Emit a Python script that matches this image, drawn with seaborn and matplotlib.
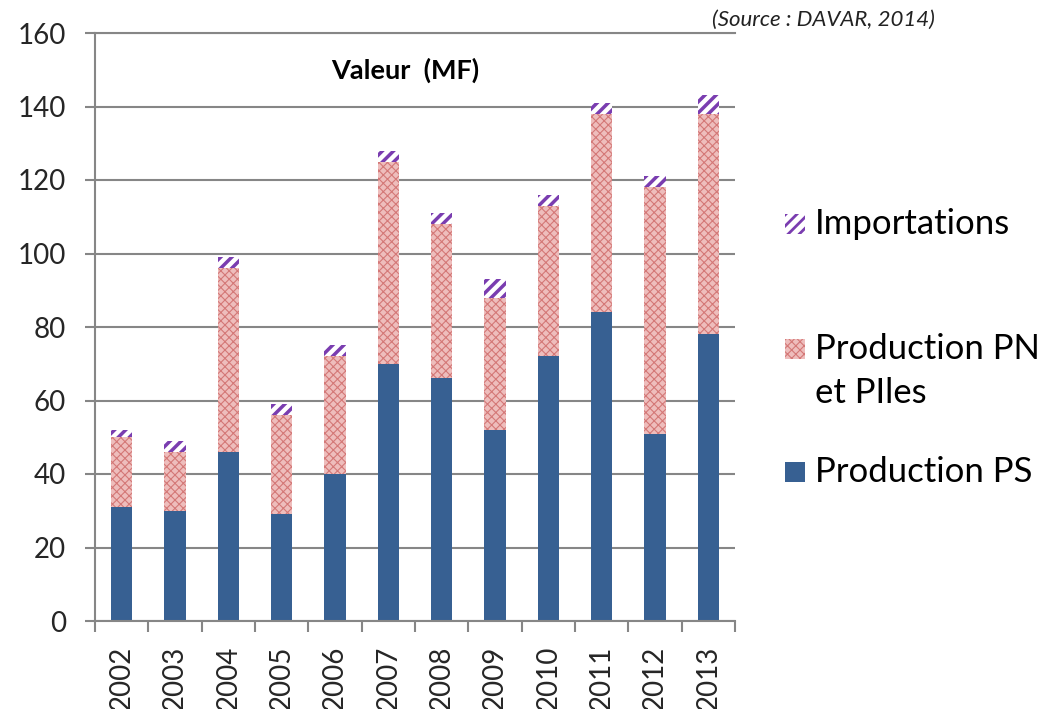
import matplotlib
matplotlib.use("Agg")

import matplotlib.pyplot as plt
from matplotlib.patches import Rectangle
import seaborn as sns
import numpy as np

# --- Data ---
years = ["2002", "2003", "2004", "2005", "2006", "2007",
         "2008", "2009", "2010", "2011", "2012", "2013"]
production_ps = [31, 30, 46, 29, 40, 70, 66, 52, 72, 84, 51, 78]
production_pn = [19, 16, 50, 27, 32, 55, 42, 36, 41, 54, 67, 60]
importations = [2, 3, 3, 3, 3, 3, 3, 5, 3, 3, 3, 5]

series_labels = ["Importations", "Production PN\net PIles", "Production PS"]

# --- Style ---
C_PS = "#376092"
C_PN_FACE = "#EEBDBC"
C_PN_HATCH = "#D47877"
C_IMP = "#7A3DB0"
GRID = "#868686"

sns.set_theme(style="white")
plt.rcParams["font.family"] = ["Lato", "DejaVu Sans"]

fig = plt.figure(figsize=(10.46, 7.09), dpi=100)
ax = fig.add_axes([95 / 1046, 1 - 621 / 709, 640 / 1046, 588 / 709])

bottom_pn = list(production_ps)
bottom_imp = [a + b for a, b in zip(production_ps, production_pn)]

sns.barplot(x=years, y=production_ps, color=C_PS, width=0.4, saturation=1,
            errorbar=None, linewidth=0, ax=ax)
with plt.rc_context({"hatch.linewidth": 0.8}):
    sns.barplot(x=years, y=production_pn, bottom=bottom_pn, width=0.4,
                saturation=1, errorbar=None, color=C_PN_FACE,
                edgecolor=C_PN_HATCH, hatch="xxxx", linewidth=0, ax=ax)
with plt.rc_context({"hatch.linewidth": 2.5}):
    sns.barplot(x=years, y=importations, bottom=bottom_imp, width=0.4,
                saturation=1, errorbar=None, color="white",
                edgecolor=C_IMP, hatch="///", linewidth=0, ax=ax)

ax.set_xlim(-0.5, 11.5)
ax.set_ylim(0, 160)
ax.set_yticks(np.arange(0, 161, 20))
ax.yaxis.grid(True, color=GRID, linewidth=1.5)
ax.set_axisbelow(True)

# category boundaries get tick marks, labels sit between them
ax.set_xticks(np.arange(-0.5, 12, 1))
ax.set_xticklabels([])
ax.set_xticks(np.arange(len(years)), minor=True)
ax.set_xticklabels(years, minor=True, rotation=90, fontsize=20)
ax.tick_params(axis="x", which="major", length=8, width=1.5, color=GRID,
               direction="out", bottom=True)
ax.tick_params(axis="x", which="minor", length=0, pad=18, bottom=True)
ax.tick_params(axis="y", length=7, width=1.5, color=GRID, direction="out",
               left=True, labelsize=20, pad=14)
ax.set_xlabel("")
ax.set_ylabel("")

for side in ["left", "bottom", "top"]:
    ax.spines[side].set_visible(True)
    ax.spines[side].set_color(GRID)
    ax.spines[side].set_linewidth(1.5)
ax.spines["right"].set_visible(False)

ax.text(0.485, 0.937, "Valeur  (MF)", transform=ax.transAxes, ha="center",
        va="center", fontsize=19.5, fontweight="bold", color="black")
fig.text(935 / 1046, 1 - 20 / 709, "(Source : DAVAR, 2014)", ha="right",
         va="center", fontsize=16, style="italic", color="#222222")

# --- Legend drawn by hand to match the spacing of the original ---
def legend_patch(y_px, **kw):
    fig.patches.append(Rectangle((785 / 1046, 1 - (y_px + 10) / 709),
                                 20 / 1046, 20 / 709, transform=fig.transFigure,
                                 linewidth=0, **kw))

with plt.rc_context({"hatch.linewidth": 2.0}):
    legend_patch(224, facecolor="white", edgecolor=C_IMP, hatch="///")
with plt.rc_context({"hatch.linewidth": 0.8}):
    legend_patch(349, facecolor=C_PN_FACE, edgecolor=C_PN_HATCH, hatch="xxxx")
legend_patch(472, facecolor=C_PS)

fig.text(815 / 1046, 1 - 224 / 709, series_labels[0], ha="left", va="center",
         fontsize=25, color="black")
fig.text(815 / 1046, 1 - 333 / 709, series_labels[1], ha="left", va="top",
         fontsize=25, color="black", linespacing=1.45)
fig.text(815 / 1046, 1 - 472 / 709, series_labels[2], ha="left", va="center",
         fontsize=25, color="black")

fig.savefig("out.png", dpi=100)
plt.close(fig)
